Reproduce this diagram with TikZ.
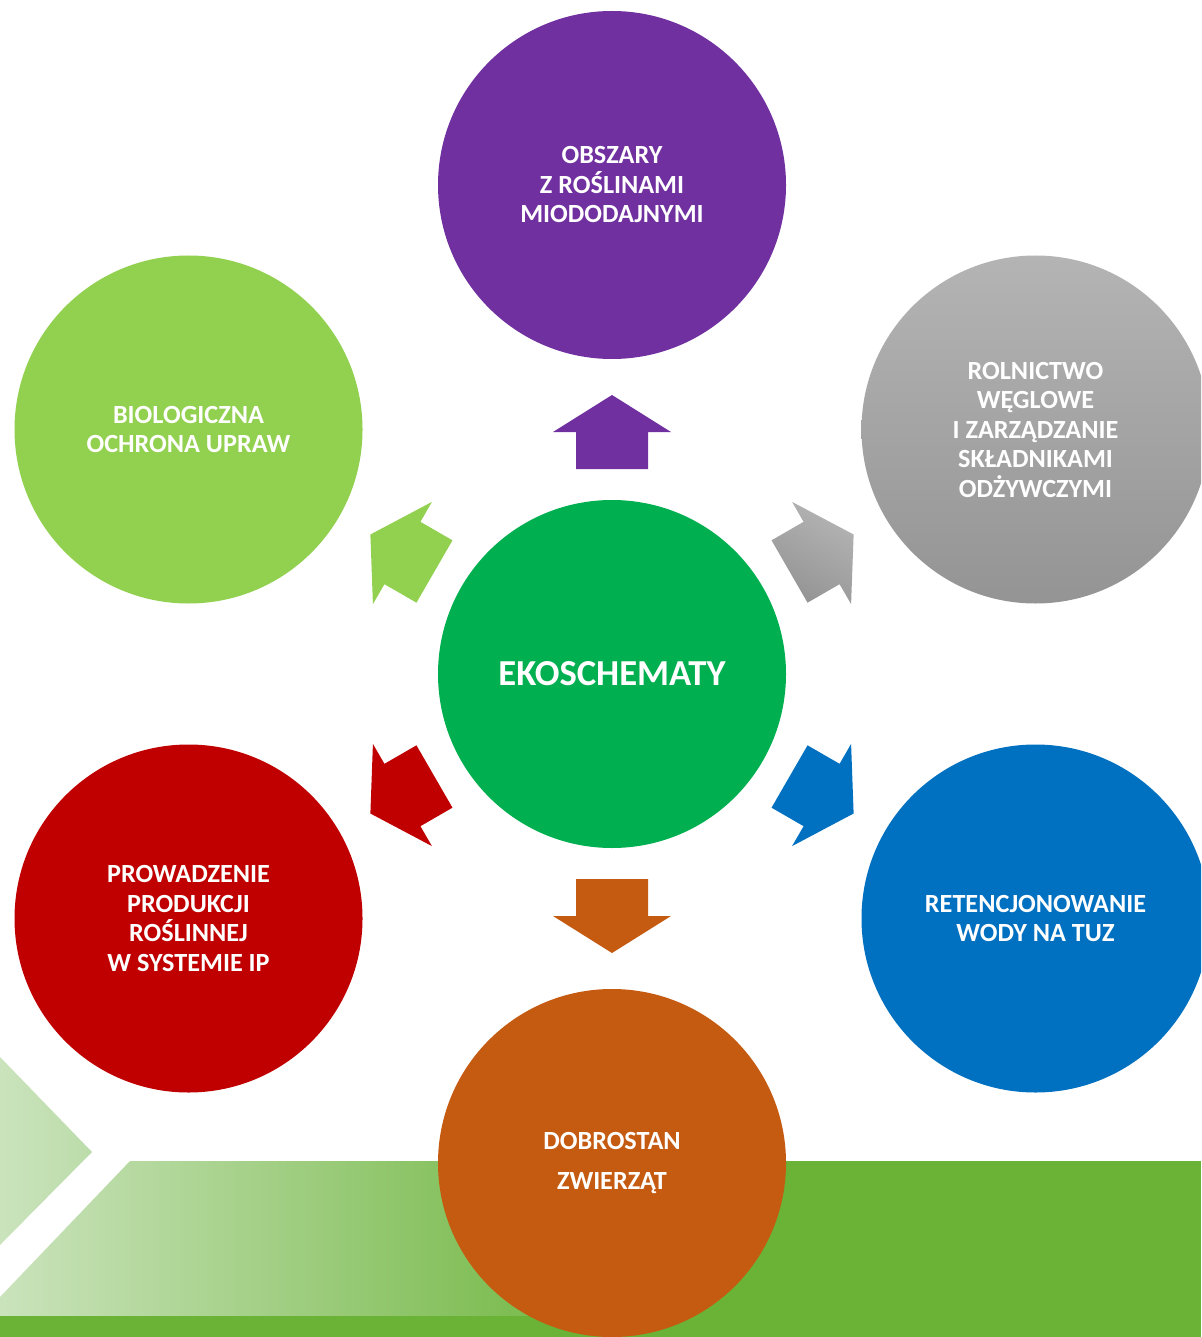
\documentclass[tikz,border=0pt]{standalone}
\usepackage{fontspec}
\setmainfont{Carlito}
\usetikzlibrary{calc}
\definecolor{cpurple}{RGB}{112,48,160}
\definecolor{cgreen}{RGB}{0,176,80}
\definecolor{clight}{RGB}{146,208,80}
\definecolor{cred}{RGB}{192,0,0}
\definecolor{cblue}{RGB}{0,112,192}
\definecolor{corange}{RGB}{197,90,17}
\definecolor{cgraytop}{RGB}{180,180,180}
\definecolor{cgraybot}{RGB}{148,148,148}
\definecolor{bandgreen}{RGB}{106,179,55}
\definecolor{bandlight}{RGB}{202,227,188}
\definecolor{chevtip}{RGB}{188,220,170}
\begin{document}
\begin{tikzpicture}[x=1pt,y=1pt,
  circ/.style={circle, minimum size=348pt, inner sep=0pt, text=white, align=center,
    font=\fontsize{26.2}{29.5}\selectfont\bfseries},
  blockarrow/.pic={\path[pic actions] (37,0) -- (0,59) -- (0,36) -- (-37,36) -- (-37,-36) -- (0,-36) -- (0,-59) -- cycle;}
]
\useasboundingbox (0,0) rectangle (1201,-1337);
\clip (0,0) rectangle (1201,-1337);
\fill[white] (0,0) rectangle (1201,-1337);
% background
\shade[left color=bandlight, right color=chevtip] (0,-1057) -- (92,-1152) -- (0,-1245) -- cycle;
\shade[left color=bandlight, right color=bandgreen] (130,-1161) -- (650,-1161) -- (650,-1316) -- (0,-1316) -- (0,-1297) -- cycle;
\fill[bandgreen] (649,-1161) rectangle (1201,-1316);
\fill[bandgreen] (0,-1316) rectangle (1201,-1337);
% circles
\node[circ, fill=cgreen, font=\fontsize{36.6}{42}\selectfont\bfseries] (ctr) at (612,-674) {EKOSCHEMATY};
\node[circ, fill=cpurple] (n1) at ($(ctr)+(90:489)$) {OBSZARY\\Z ROŚLINAMI\\MIODODAJNYMI};
\node[circ, top color=cgraytop, bottom color=cgraybot] (n2) at ($(ctr)+(30:489)$) {ROLNICTWO\\WĘGLOWE\\I ZARZĄDZANIE\\SKŁADNIKAMI\\ODŻYWCZYMI};
\node[circ, fill=cblue] (n3) at ($(ctr)+(-30:489)$) {RETENCJONOWANIE\\WODY NA TUZ};
\node[circ, fill=corange] (n4) at ($(ctr)+(-90:489)$) {DOBROSTAN\\[11pt]ZWIERZĄT};
\node[circ, fill=cred] (n5) at ($(ctr)+(-150:489)$) {PROWADZENIE\\PRODUKCJI\\ROŚLINNEJ\\W SYSTEMIE IP};
\node[circ, fill=clight] (n6) at ($(ctr)+(150:489)$) {BIOLOGICZNA\\OCHRONA UPRAW};
% block arrows
\pic[fill=cpurple, rotate=90] at ($(ctr)+(90:242)$) {blockarrow};
\pic[top color=cgraytop, bottom color=cgraybot, shading angle=-30, rotate=30] at ($(ctr)+(30:242)$) {blockarrow};
\pic[fill=cblue, rotate=-30] at ($(ctr)+(-30:242)$) {blockarrow};
\pic[fill=corange, rotate=-90] at ($(ctr)+(-90:242)$) {blockarrow};
\pic[fill=cred, rotate=-150] at ($(ctr)+(-150:242)$) {blockarrow};
\pic[fill=clight, rotate=150] at ($(ctr)+(150:242)$) {blockarrow};
\end{tikzpicture}
\end{document}
